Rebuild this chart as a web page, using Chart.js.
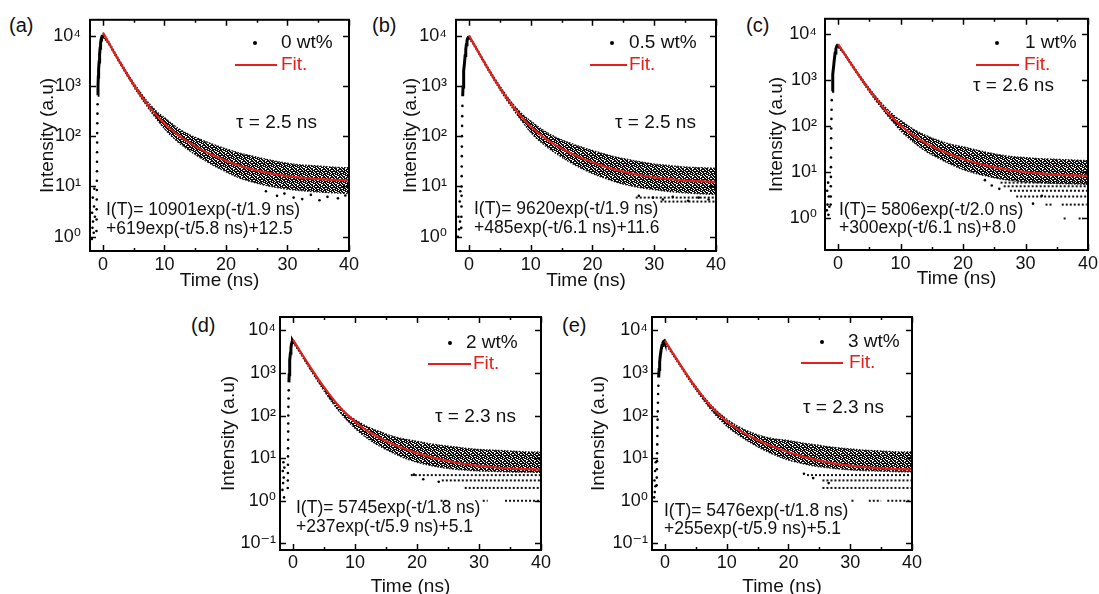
<!DOCTYPE html>
<html>
<head>
<meta charset="utf-8">
<script src="https://cdn.jsdelivr.net/npm/chart.js@4.4.1/dist/chart.umd.min.js"></script>
<style>
body{margin:0;background:#fff;width:1099px;height:594px;overflow:hidden;position:relative;font-family:"Liberation Sans",Arial,sans-serif;}
canvas{position:absolute;}
.lbl{position:absolute;font-size:20px;line-height:24px;color:#111;}
</style>
</head>
<body>
<script>
// sample times of the decay band and of the fit curve (ns)
var bandTimes=[0,1,2,3,4,5,6,7,8,9,10,12,14,16,18,20,22,24,26,28,30,32,34,36,38,40];
var xTicks=[0,10,20,30,40];
var xTickLabels=['0','10','20','30','40'];
var yTicksTop=[1,10,100,1000,10000];
var yTickLabelsTop=['10⁰','10¹','10²','10³','10⁴'];
var yTicksBottom=[0.1,1,10,100,1000,10000];
var yTickLabelsBottom=['10⁻¹','10⁰','10¹','10²','10³','10⁴'];

var panelNames=['(a)','(b)','(c)','(d)','(e)'];
var sampleNames=['0 wt%','0.5 wt%','1 wt%','2 wt%','3 wt%'];
var tauTexts=['τ = 2.5 ns','τ = 2.5 ns','τ = 2.6 ns','τ = 2.3 ns','τ = 2.3 ns'];
var eqLine1=['I(T)= 10901exp(-t/1.9 ns)','I(T)= 9620exp(-t/1.9 ns)','I(T)= 5806exp(-t/2.0 ns)','I(T)= 5745exp(-t/1.8 ns)','I(T)= 5476exp(-t/1.8 ns)'];
var eqLine2=['+619exp(-t/5.8 ns)+12.5','+485exp(-t/6.1 ns)+11.6','+300exp(-t/6.1 ns)+8.0','+237exp(-t/5.9 ns)+5.1','+255exp(-t/5.9 ns)+5.1'];

// fit curves read at bandTimes
var fitA=[11533,6973,4255,2630,1651,1058,696,471,330,239,179,110,75,54,41,32.5,26.4,22.4,19.5,17.5,16.0,15.0,14.3,13.8,13.4,13.1];
var fitB=[10117,6106,3718,2292,1435,918,602,407,285,207,155.5,96.8,66.6,48.9,37.7,30.2,24.8,21.1,18.4,16.5,15.2,14.2,13.4,12.9,12.6,12.3];
var fitC=[6114,3784,2360,1487,949,617,409,279,195,141,105,64.3,43.5,31.8,24.4,19.6,16.2,13.9,12.2,11.1,10.2,9.6,9.1,8.8,8.6,8.4];
var fitD=[5987,3502,2065,1233,748,464,296,195,133.6,95.3,70.8,43.4,29.6,21.6,16.6,13.1,10.8,9.2,8.0,7.2,6.6,6.2,5.8,5.6,5.5,5.4];
var fitE=[5736,3362,1990,1193,728,455,293,195,135,97.5,73.1,45.5,31.2,22.8,17.5,13.8,11.3,9.5,8.2,7.3,6.7,6.2,5.9,5.7,5.5,5.4];

// upper and lower edge of the measured points at bandTimes
var upperA=[10800,7400,4550,2820,1780,1150,770,530,385,290,235,150,108,85,68,56,47,41,36,32,29,27,26,25,24,23.5];
var lowerA=[9300,6500,3950,2440,1530,970,630,420,285,198,140,80,52,36,26,19.5,15,12.5,10.8,9.6,8.8,8.3,7.9,7.6,7.4,7.2];
var upperB=[9800,6450,3950,2450,1540,1000,665,455,330,250,200,132,96,76,62,52,44,38,34,30.5,28,26.5,25,24,23.5,23];
var lowerB=[8800,5750,3480,2130,1330,840,545,365,245,170,118,70,46,32,23.5,18,14.5,12,10.4,9.3,8.6,8.0,7.6,7.3,7.1,6.9];
var upperC=[5900,4000,2500,1590,1020,670,450,315,228,170,135,88,64,50,41,36,31,27,24,22,21,20,19.5,19,18.5,18];
var lowerC=[5200,3550,2200,1380,870,560,365,245,165,115,80,46,29,20.5,15,11.5,9.5,8.2,7.2,6.6,6.2,6.0,5.8,5.7,5.6,5.5];
var upperD=[5800,3500,2050,1220,740,455,290,195,138,102,80,55,42,33,28,25,22,20,18.5,17,16,15.5,15,14.5,14,14];
var lowerD=[5100,3100,1800,1060,630,380,235,150,100,70,50,29,19,13.5,10,8,6.8,6,5.5,5.2,5,4.9,4.8,4.7,4.7,4.6];
var upperE=[5500,3450,2050,1240,760,480,310,208,147,108,83,54,40,32,28,26,23,21,19,17.5,16.5,15.5,15,14.5,14,14];
var lowerE=[4900,3000,1800,1080,650,400,255,165,110,78,56,34,22.5,15.5,11.5,9,7.6,6.6,6,5.6,5.3,5.1,5,4.9,4.8,4.8];

// steep rise to the peak [t, counts]
var riseA=[[-0.84,650],[-0.8,1000],[-0.75,1500],[-0.7,2100],[-0.62,3000],[-0.54,4200],[-0.46,5600],[-0.38,7000],[-0.3,8200],[-0.22,9100],[-0.14,9700],[-0.06,10000],[0,10050]];
var riseB=[[-1.02,620],[-0.96,950],[-0.9,1400],[-0.82,2000],[-0.72,2900],[-0.62,4000],[-0.52,5300],[-0.42,6600],[-0.32,7800],[-0.22,8700],[-0.12,9200],[-0.04,9400],[0,9300]];
var riseC=[[-0.97,580],[-0.9,900],[-0.82,1350],[-0.72,2000],[-0.6,2900],[-0.48,3900],[-0.36,4800],[-0.24,5400],[-0.12,5750],[-0.03,5850],[0,5550]];
var riseD=[[-0.66,600],[-0.62,900],[-0.57,1350],[-0.5,2000],[-0.42,2900],[-0.34,3800],[-0.25,4700],[-0.16,5300],[-0.08,5700],[0,5450]];
var riseE=[[-1.02,780],[-0.95,1200],[-0.86,1800],[-0.75,2600],[-0.62,3500],[-0.48,4400],[-0.34,5100],[-0.2,5500],[-0.08,5650],[0,5200]];

// single points [t, counts]: pre-pulse column and stray low points
var dotsA=[[-1.8,0.9],[-1.75,3],[-1.7,1.5],[-1.65,6],[-1.6,2],[-1.5,1.2],[-1.45,4],[-1.4,9],[-1.3,2.5],[-1.05,1.3],[-1.03,2.2],[-1.02,3.5],[-1.0,5.5],[-0.99,8.5],[-0.98,13],[-0.97,20],[-0.96,31],[-0.95,48],[-0.94,75],[-0.93,115],[-0.91,180],[-0.89,280],[-0.87,430],[26.5,8],[28.3,6.5],[29.5,7.2],[31,6],[32.4,5.6],[33.8,6.8],[35.2,5.3],[36.5,6.2],[38.2,5.8],[39.4,6.6]];
var dotsB=[[-1.8,1],[-1.7,2.5],[-1.6,1.4],[-1.5,5],[-1.45,2],[-1.4,8],[-1.25,1.5],[-1.23,2.5],[-1.21,4],[-1.2,6.5],[-1.19,10],[-1.18,16],[-1.17,25],[-1.16,40],[-1.15,62],[-1.13,100],[-1.11,160],[-1.09,250],[-1.06,400],[27.5,6.5],[29.8,6],[31.4,5.5],[33,6.2],[35.5,5.2],[37.2,6],[38.8,5.5]];
var dotsC=[[-1.8,1.5],[-1.75,4],[-1.7,2],[-1.6,6],[-1.55,1.2],[-1.5,3],[-1.4,1.8],[-1.2,2],[-1.18,3],[-1.17,5],[-1.16,8],[-1.15,13],[-1.14,21],[-1.13,34],[-1.12,55],[-1.1,90],[-1.08,145],[-1.05,230],[-1.02,370],[23.5,6.8],[24.6,5.2],[25.8,4.4],[31.2,2.1],[32.6,3.1]];
var dotsD=[[-1.7,1.8],[-1.65,5],[-1.6,2.6],[-1.55,8],[-1.5,3.5],[-1.45,1.2],[-1.4,6],[-0.85,2],[-0.84,3],[-0.83,4.5],[-0.82,7],[-0.81,11],[-0.8,17],[-0.79,27],[-0.78,42],[-0.77,65],[-0.76,100],[-0.74,160],[-0.72,250],[-0.69,390],[19.5,4.1],[21,3.2],[23.5,2.8]];
var dotsE=[[-1.75,1.2],[-1.7,3],[-1.65,1.6],[-1.6,5],[-1.55,2.2],[-1.5,8],[-1.35,2.3],[-1.33,3.5],[-1.31,5.5],[-1.29,8.5],[-1.27,13],[-1.25,21],[-1.23,33],[-1.21,52],[-1.19,80],[-1.17,125],[-1.14,200],[-1.11,320],[-1.07,500],[22.5,4.3],[24,3.4],[26.5,2.6]];

// quantised count rows [counts, t from, t to]
var levelsA=[];
var levelsB=[[6,27,40],[5,31,40]];
var levelsC=[[6,26,40],[5,26.5,40],[4,27.5,40],[3,28.5,40],[2,33.2,34.2],[2,35.8,39.8],[1,36.1,36.5],[1,38.5,39.2]];
var levelsD=[[4,19,40],[3,24,40],[2,27.7,40],[1,23.8,25],[1,30.6,31.4],[1,34.2,40]];
var levelsE=[[4,23,40],[3,25.5,40],[2,25.5,40],[1,30.2,30.8],[1,33,35],[1,36,40]];

var FONT='"Liberation Sans", Arial, "DejaVu Sans", sans-serif';
var RED='#e3201b';
Chart.defaults.font.family=FONT;
Chart.defaults.color='#111';

// page layout of the five panels (pixels)
var panels=[
	{left:36,top:0,width:329,height:292,frame:[90,16,349,251],yMin:0.52,yMax:20600,yTicks:yTicksTop,yLabels:yTickLabelsTop,yPad:9,xPad:3,
	 fit:fitA,upper:upperA,lower:lowerA,rise:riseA,dots:dotsA,levels:levelsA,name:[9,25],dot:[255,43],text:281,line:[235,277,65],fitText:281,tau:[236,123],eq:[106,210,229]},
	{left:399,top:0,width:333,height:292,frame:[456,16,716,251],yMin:0.52,yMax:20600,yTicks:yTicksTop,yLabels:yTickLabelsTop,yPad:9,xPad:3,
	 fit:fitB,upper:upperB,lower:lowerB,rise:riseB,dots:dotsB,levels:levelsB,name:[372,25],dot:[612,43],text:629,line:[590,627,65],fitText:629,tau:[615,123],eq:[474,209,228]},
	{left:765,top:0,width:339,height:290,frame:[825,15,1088,250],yMin:0.207,yMax:21600,yTicks:yTicksTop,yLabels:yTickLabelsTop,yPad:8,xPad:3,
	 fit:fitC,upper:upperC,lower:lowerC,rise:riseC,dots:dotsC,levels:levelsC,name:[746,25],dot:[997,43],text:1025,line:[976,1019,65],fitText:1024,tau:[973,86],eq:[839,210,228]},
	{left:217,top:300,width:340,height:298,frame:[280,317,541,550],yMin:0.07,yMax:20500,yTicks:yTicksBottom,yLabels:yTickLabelsBottom,yPad:4,xPad:2,
	 fit:fitD,upper:upperD,lower:lowerD,rise:riseD,dots:dotsD,levels:levelsD,name:[191,325],dot:[450,343],text:466,line:[428,471,364],fitText:473,tau:[435,417],eq:[296,508,527]},
	{left:587,top:300,width:341,height:298,frame:[652,317,912,550],yMin:0.07,yMax:20500,yTicks:yTicksBottom,yLabels:yTickLabelsBottom,yPad:4,xPad:2,
	 fit:fitE,upper:upperE,lower:lowerE,rise:riseE,dots:dotsE,levels:levelsE,name:[562,325],dot:[822,342],text:848,line:[801,843,363],fitText:849,tau:[803,408],eq:[664,511,529]}
];

function series(times,values){
	return times.map(function(t,k){return {x:t,y:values[k]};});
}
function pairs(list){
	return list.map(function(d){return {x:d[0],y:d[1]};});
}

// dark speckle used to fill the noisy band of points
function speckle(ctx){
	var c=document.createElement('canvas');
	c.width=8;c.height=8;
	var g=c.getContext('2d');
	g.fillStyle='#111';
	g.fillRect(0,0,8,8);
	[[1,0],[5,0],[6,0],[2,1],[5,1],[0,2],[3,2],[7,2],[5,3],[1,4],[2,4],[6,4],[4,5],[7,5],[2,6],[6,6],[0,7],[3,7],[4,7]].forEach(function(h){
		g.clearRect(h[0],h[1],1,1);
	});
	return ctx.createPattern(c,'repeat');
}

function notesPlugin(p,i){
	return {
		id:'notes'+i,
		afterDraw:function(chart){
			var ctx=chart.ctx,ca=chart.chartArea,sx=chart.scales.x,sy=chart.scales.y;
			var ox=p.left,oy=p.top;
			ctx.save();
			ctx.strokeStyle='#000';
			ctx.lineWidth=2;
			ctx.strokeRect(ca.left,ca.top,ca.right-ca.left,ca.bottom-ca.top);
			ctx.lineWidth=1.5;
			ctx.beginPath();
			for(var t=0;t<=40;t+=5){
				var px=Math.round(sx.getPixelForValue(t))+0.5;
				var len=(t%10==0)?6:3;
				ctx.moveTo(px,ca.bottom);ctx.lineTo(px,ca.bottom-len);
				ctx.moveTo(px,ca.top);ctx.lineTo(px,ca.top+len);
			}
			p.yTicks.forEach(function(v){
				var py=Math.round(sy.getPixelForValue(v))+0.5;
				ctx.moveTo(ca.left,py);ctx.lineTo(ca.left+6,py);
				ctx.moveTo(ca.right,py);ctx.lineTo(ca.right-6,py);
			});
			ctx.stroke();

			// legend
			ctx.fillStyle='#000';
			ctx.beginPath();
			ctx.arc(p.dot[0]-ox,p.dot[1]-oy,2,0,Math.PI*2);
			ctx.fill();
			ctx.strokeStyle=RED;
			ctx.lineWidth=2.2;
			ctx.beginPath();
			ctx.moveTo(p.line[0]-ox,p.line[2]-oy);ctx.lineTo(p.line[1]-ox,p.line[2]-oy);
			ctx.stroke();
			ctx.textBaseline='middle';
			ctx.textAlign='left';
			ctx.font='19px '+FONT;
			ctx.fillStyle='#111';
			ctx.fillText(sampleNames[i],p.text-ox,p.dot[1]-oy);
			ctx.fillText(tauTexts[i],p.tau[0]-ox,p.tau[1]-oy);
			ctx.fillStyle=RED;
			ctx.fillText('Fit.',p.fitText-ox,p.line[2]-oy);
			ctx.fillStyle='#111';
			ctx.font='17.5px '+FONT;
			ctx.fillText(eqLine1[i],p.eq[0]-ox,p.eq[1]-oy);
			ctx.fillText(eqLine2[i],p.eq[0]-ox,p.eq[2]-oy);
			ctx.restore();
		}
	};
}

panels.forEach(function(p,i){
	var lbl=document.createElement('div');
	lbl.className='lbl';
	lbl.style.left=p.name[0]+'px';
	lbl.style.top=(p.name[1]-12)+'px';
	lbl.textContent=panelNames[i];
	document.body.appendChild(lbl);

	var cv=document.createElement('canvas');
	cv.width=p.width;cv.height=p.height;
	cv.style.left=p.left+'px';cv.style.top=p.top+'px';
	cv.style.width=p.width+'px';cv.style.height=p.height+'px';
	document.body.appendChild(cv);
	var ctx=cv.getContext('2d');
	var speck=speckle(ctx);

	var datasets=[];
	datasets.push({data:series(bandTimes,p.lower),borderColor:'#111',borderWidth:1.3,borderDash:[1.5,1.5],pointRadius:0,fill:false,cubicInterpolationMode:'monotone',order:4});
	datasets.push({data:series(bandTimes,p.upper),borderColor:'#111',borderWidth:1.3,borderDash:[1.5,1.5],pointRadius:0,fill:'-1',backgroundColor:speck,cubicInterpolationMode:'monotone',order:4});
	p.levels.forEach(function(l){
		datasets.push({data:[{x:l[1],y:l[0]},{x:l[2],y:l[0]}],borderColor:'#111',borderWidth:2,borderDash:[2,2],pointRadius:0,fill:false,order:3});
	});
	datasets.push({data:pairs(p.dots),showLine:false,pointRadius:1.3,pointBackgroundColor:'#000',pointBorderWidth:0,order:2});
	datasets.push({data:pairs(p.rise),borderColor:'#000',borderWidth:3,pointRadius:0,fill:false,order:1});
	datasets.push({data:series(bandTimes,p.fit),borderColor:RED,borderWidth:2.2,pointRadius:0,fill:false,cubicInterpolationMode:'monotone',order:0});

	new Chart(ctx,{
		type:'line',
		data:{datasets:datasets},
		options:{
			responsive:false,
			animation:false,
			devicePixelRatio:1,
			events:[],
			layout:{padding:{left:0,top:p.frame[1]-p.top,right:p.left+p.width-p.frame[2],bottom:0}},
			plugins:{legend:{display:false},tooltip:{enabled:false}},
			scales:{
				x:{
					type:'linear',min:-2.1,max:40,
					afterBuildTicks:function(s){s.ticks=xTicks.map(function(v){return {value:v};});},
					afterFit:function(s){s.height=p.top+p.height-p.frame[3];},
					grid:{display:false,drawTicks:false},
					border:{display:false},
					ticks:{padding:p.xPad,autoSkip:false,maxRotation:0,color:'#111',font:{size:18},callback:function(v,k){return xTickLabels[k];}},
					title:{display:true,text:'Time (ns)',color:'#111',font:{size:19},padding:0}
				},
				y:{
					type:'logarithmic',min:p.yMin,max:p.yMax,
					afterBuildTicks:function(s){s.ticks=p.yTicks.map(function(v){return {value:v};});},
					afterFit:function(s){s.width=p.frame[0]-p.left;},
					grid:{display:false,drawTicks:false},
					border:{display:false},
					ticks:{padding:p.yPad,autoSkip:false,color:'#111',font:{size:18},callback:function(v,k){return p.yLabels[k];}},
					title:{display:true,text:'Intensity (a.u)',color:'#111',font:{size:19},padding:0}
				}
			}
		},
		plugins:[notesPlugin(p,i)]
	});
});
</script>
</body>
</html>
